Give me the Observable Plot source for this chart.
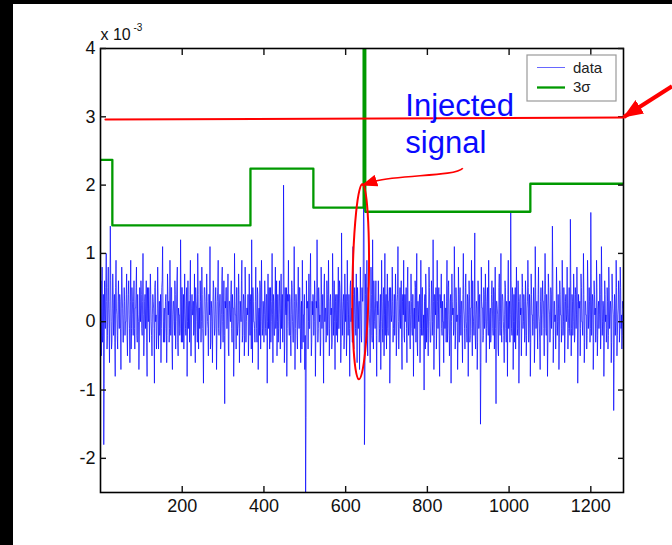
<!DOCTYPE html>
<html><head><meta charset="utf-8">
<script src="https://cdn.jsdelivr.net/npm/d3@7"></script>
<script src="https://cdn.jsdelivr.net/npm/@observablehq/plot@0.6"></script>
<style>
body{margin:0;background:#fff;}
#wrap{position:relative;width:672px;height:545px;overflow:hidden;font-family:"Liberation Sans",Arial,sans-serif;}
.strip{position:absolute;background:#000;z-index:2;}
#wrap svg{position:absolute;left:0;top:0;}
</style></head><body>
<div id="wrap"><div class="strip" style="left:0;top:0;width:672px;height:4px"></div><div class="strip" style="left:0;top:0;width:13px;height:545px"></div></div>
<script>
// detector output, units of 1e-4 (plotted in units of 1e-3)
// even samples (x = 0, 2, 4, ...)
const noiseEven = [
3,-5,8,-2,-18,6,-1,10,-4,5,2,-6,14,0,-3,7,-2,4,-8,9,
1,-4,6,-1,3,-7,8,2,-3,5,-2,0,7,-5,4,1,-6,9,-1,3,
-2,6,-4,2,8,-3,1,-7,5,0,4,-2,10,-5,3,-1,6,-8,2,5,
-3,7,0,-5,4,2,-9,6,1,-2,8,-4,3,0,-6,5,11,-3,2,-1,
4,-6,7,1,-3,9,-2,5,-7,3,0,6,-4,2,8,-5,1,-2,12,-3,
5,0,-4,7,-1,3,-8,6,2,-3,9,-5,4,1,-2,7,-6,3,0,10,
-4,2,6,-3,8,-1,-9,5,3,-2,7,0,-5,4,11,-3,2,-6,6,1,
-1,5,-7,3,9,-2,4,-4,1,8,-3,6,-12,2,5,-1,7,-5,3,0,
6,-3,2,-8,10,1,-4,5,-1,7,-6,3,0,9,-2,4,-5,8,-3,2,
1,-5,7,-2,4,12,-6,3,0,-3,8,-1,5,-7,2,6,-4,9,-2,3,
-3,6,-1,4,-9,7,2,-4,5,0,10,-6,3,-2,8,1,-5,4,-1,6,
-4,7,2,-3,20,-6,5,1,-8,4,9,-2,3,-5,6,0,-3,11,-7,4,
2,-4,8,-1,5,-6,3,9,-3,1,-7,-26,6,2,-4,7,-1,10,-5,3,
4,-2,6,-8,3,12,-3,5,0,-5,8,-1,4,-9,7,2,-3,6,-2,9,
-5,3,1,-4,10,-2,6,-7,4,0,-3,8,-1,5,-6,13,-2,3,-4,7,
0,-5,9,-2,4,-8,6,1,-3,11,-4,5,-1,7,-6,3,2,-7,8,-2,
5,3,19,-18,7,-3,9,-5,4,1,-6,8,-2,12,-4,3,-1,6,-8,2,
6,-3,1,-7,9,-1,4,-5,10,2,-4,7,-2,3,-9,5,0,8,-3,1,
-2,7,-5,3,11,-4,2,-1,6,-7,4,9,-3,0,5,-6,8,-2,3,-4,
7,-1,4,-8,2,6,-3,10,-5,1,3,-6,9,-2,5,-1,-10,4,7,-3,
2,-5,8,0,-3,6,-2,12,-7,4,1,-4,9,-1,5,-8,3,7,-2,0,
-6,4,2,-3,9,-1,6,-5,3,-9,7,1,-2,11,-4,5,0,-7,8,-3,
5,-2,3,-6,10,1,-4,7,-1,4,-8,6,-3,2,9,-5,1,-2,13,-4,
3,-7,6,-1,4,-15,8,2,-3,5,-1,7,-6,3,0,9,-4,2,-2,6,
-1,5,-4,8,-12,3,1,-5,7,-2,10,-3,4,0,-6,6,-1,3,-8,9,
2,-3,16,-1,5,-7,4,0,-4,8,-2,6,-9,3,1,-5,7,-1,4,-3,
6,-5,2,9,-3,4,-8,7,1,-2,5,-6,11,-1,3,-4,8,0,-7,5,
-2,6,3,-5,10,-1,4,-8,7,2,-3,5,-1,14,-6,3,0,-4,8,-2,
4,-7,6,1,-3,9,-2,5,-6,3,0,8,-4,2,-1,15,-5,4,-2,7,
-3,5,-1,8,-9,4,2,-5,7,0,-2,10,-6,3,1,-4,9,-1,5,-3,
16,-2,4,-7,6,1,-3,9,-5,2,-1,7,-4,11,-2,3,-8,6,0,-3,
5,-4,8,-1,3,-6,7,2,-13,4,-2,9,-5,1,6,-3,8,-1,-4,3
];
// odd samples (x = 1, 3, 5, ...)
const noiseOdd = [
6,2,-3,4,-9,1,5,3,-2,8,-1,3,6,-4,2,4,1,-3,5,2,
-2,3,1,4,-1,2,5,-3,1,3,0,4,-2,2,6,-1,3,-4,5,1,
3,-1,2,5,-2,4,0,-3,2,6,-1,3,1,-2,4,2,-3,5,0,1,
2,4,-2,1,3,-1,5,0,-4,2,3,1,-2,4,-1,6,2,0,-3,3,
1,-2,4,3,-1,2,5,-4,1,3,-2,4,0,6,-3,2,1,-1,4,5,
-3,4,1,2,-2,5,0,-1,3,4,-5,2,1,3,-1,-2,5,2,-3,4,
2,-1,3,0,4,-3,1,5,-2,2,3,-1,4,1,-4,3,0,2,5,-2,
3,1,-2,5,-1,2,4,-3,6,0,1,-2,3,5,-1,2,-4,3,1,4,
-1,4,2,-3,3,1,5,-2,0,4,-1,2,6,-3,1,3,-2,4,0,2,
4,-2,1,3,-4,2,5,0,-1,3,2,-3,4,1,-2,5,0,3,-1,2,
1,3,-2,4,0,-1,5,2,-3,3,1,4,-2,2,-1,6,0,-3,3,1,
2,-1,4,1,8,-3,2,5,-1,3,0,4,-2,1,5,-3,2,3,-1,4,
-2,3,1,5,-1,2,-4,3,1,4,-2,-14,2,3,0,-1,5,2,-3,1,
3,0,4,-2,2,5,-1,3,1,-3,4,2,-1,5,0,2,-2,4,1,3,
-1,4,2,-3,5,1,0,3,-2,4,1,-1,6,2,-3,3,1,4,-2,2,
4,-2,3,1,-1,5,0,2,-3,4,1,3,-2,2,5,-1,3,0,2,-3,
3,8,14,-12,4,1,-2,5,3,-1,2,4,-3,1,6,0,2,-2,3,1,
2,-1,4,0,3,-3,5,1,-2,4,2,-1,3,5,-4,2,1,3,-1,4,
1,3,-2,4,0,-1,5,2,-3,3,1,-2,4,2,-1,5,0,3,-2,1,
3,-2,4,1,-1,5,2,-3,3,0,4,-1,2,5,-2,1,3,-4,4,2,
-1,2,5,-3,1,4,0,3,-2,2,5,-1,3,1,-4,4,2,-1,3,0,
4,-1,2,3,-3,5,1,-2,4,0,3,2,-1,5,-2,3,1,-3,4,2,
1,3,-2,4,2,-1,5,0,-3,3,1,4,-2,2,-1,6,0,3,-2,1,
2,-3,4,1,-1,-6,3,2,-2,4,0,3,-1,5,-2,2,1,-3,4,3,
-2,4,1,-1,3,2,-4,5,0,2,-1,4,3,-2,1,5,-3,2,4,-1,
3,1,6,-2,4,0,-3,5,1,2,-1,3,-4,4,2,-1,5,0,3,-2,
4,-2,3,5,-1,2,-3,4,1,0,3,-2,5,2,-1,4,1,-3,3,2,
1,3,-1,4,6,-2,2,-3,5,1,-1,4,2,7,-2,3,1,-1,4,0,
2,-3,4,1,-1,5,0,3,-2,4,1,2,-1,5,-2,6,-1,3,0,4,
-2,4,1,3,-4,2,3,-1,5,0,2,4,-3,3,1,-2,5,1,3,-1,
7,1,3,-3,4,2,-1,5,-2,3,1,4,-1,5,0,2,-3,4,1,-1,
3,-2,5,1,2,-3,4,1,-6,3,0,5,-2,2,4,-1,5,1,-2,2
];
// 3-sigma threshold (step function), units of 1e-3
const sigmaX = [0, 29, 367, 521, 644, 648, 1052, 1280];
const sigmaY = [2.37, 1.41, 2.24, 1.67, 40, 1.61, 2.02, 2.02];
const xTicks = [200, 400, 600, 800, 1000, 1200];
const yTicks = [-2, -1, 0, 1, 2, 3, 4];
// annotations, in data units
const redLineX = [12, 1280], redLineY = [2.96, 2.99];
const arrowRX = [1400, 1282], arrowRY = [3.44, 2.99];
const curveX = [888, 870, 740, 672, 642], curveY = [2.24, 2.12, 2.15, 2.05, 1.99];
const ellipseC = {x: 638, y: 0.58, rx: 20, ry: 1.43};
const noteText = "Injected\nsignal";

// sample k: even k from noiseEven[k/2], odd k from noiseOdd[(k-1)/2]
const idx = d3.range(noiseEven.length * 2);
const val = k => (k % 2 === 0 ? noiseEven[k >> 1] : noiseOdd[k >> 1]) / 10;
const sIdx = sigmaX.map((_, i) => i);
const rIdx = redLineX.map((_, i) => i);

const chart = Plot.plot({
  width: 672, height: 545,
  marginLeft: 100, marginRight: 49, marginTop: 48, marginBottom: 53,
  style: {background: "transparent", fontFamily: "Liberation Sans, Arial, sans-serif", fontSize: "18px", color: "#111", overflow: "visible"},
  x: {domain: [0, 1280], label: null},
  y: {domain: [-2.5, 4], label: null},
  marks: [
    Plot.line(idx, {x: k => k, y: val, stroke: "blue", strokeWidth: 0.7, clip: true}),
    Plot.line(sIdx, {x: i => sigmaX[i], y: i => sigmaY[i], curve: "step-after", stroke: "#009900", strokeWidth: 2.3, clip: true}),
    Plot.frame({stroke: "#000", strokeWidth: 1.6}),
    Plot.axisX(xTicks, {anchor: "bottom", tickSize: 0, tickPadding: 7, fontSize: 18, tickFormat: d => String(d)}),
    Plot.axisX(xTicks, {anchor: "bottom", tickSize: -6, strokeWidth: 1.4, tickFormat: () => ""}),
    Plot.axisX(xTicks, {anchor: "top", tickSize: -6, strokeWidth: 1.4, tickFormat: () => ""}),
    Plot.axisY(yTicks, {anchor: "left", tickSize: 0, tickPadding: 5, fontSize: 18, tickFormat: d => String(d)}),
    Plot.axisY(yTicks, {anchor: "left", tickSize: -6, strokeWidth: 1.4, tickFormat: () => ""}),
    Plot.axisY(yTicks, {anchor: "right", tickSize: -6, strokeWidth: 1.4, tickFormat: () => ""}),
    Plot.text(["x 10"], {frameAnchor: "top-left", dx: 0, dy: -9, lineAnchor: "bottom", textAnchor: "start", fontSize: 16}),
    Plot.text(["-3"], {frameAnchor: "top-left", dx: 33, dy: -18, lineAnchor: "bottom", textAnchor: "start", fontSize: 10}),
    Plot.line(rIdx, {x: i => redLineX[i], y: i => redLineY[i], stroke: "red", strokeWidth: 2}),
    Plot.text([noteText], {x: 746, y: 2.47, lineAnchor: "bottom", textAnchor: "start", fontSize: 31, lineHeight: 1.19, fill: "#0a0aff"})
  ]
});
document.getElementById("wrap").appendChild(chart);

const sx = v => chart.scale("x").apply(v);
const sy = v => chart.scale("y").apply(v);
const svg = d3.select(chart);
const defs = svg.append("defs");
defs.append("marker").attr("id", "ahBig").attr("markerUnits", "userSpaceOnUse")
  .attr("viewBox", "0 0 20 16").attr("refX", 19).attr("refY", 8)
  .attr("markerWidth", 20).attr("markerHeight", 16).attr("orient", "auto")
  .append("path").attr("d", "M0,0 L20,8 L0,16 Z").attr("fill", "red");
defs.append("marker").attr("id", "ahSmall").attr("markerUnits", "userSpaceOnUse")
  .attr("viewBox", "0 0 16 12").attr("refX", 15).attr("refY", 6)
  .attr("markerWidth", 16).attr("markerHeight", 12).attr("orient", "auto")
  .append("path").attr("d", "M0,0 L16,6 L0,12 Z").attr("fill", "red");

svg.append("line")
  .attr("x1", sx(arrowRX[0])).attr("y1", sy(arrowRY[0]))
  .attr("x2", sx(arrowRX[1])).attr("y2", sy(arrowRY[1]))
  .attr("stroke", "red").attr("stroke-width", 4).attr("marker-end", "url(#ahBig)");

const cp = curveX.map((x, i) => [sx(x), sy(curveY[i])]);
svg.append("path")
  .attr("d", `M${cp[0]} C${cp[1]} ${cp[2]} ${cp[3]} L${cp[4]}`)
  .attr("fill", "none").attr("stroke", "red").attr("stroke-width", 1.6).attr("marker-end", "url(#ahSmall)");

const ecx = sx(ellipseC.x), ecy = sy(ellipseC.y);
svg.append("ellipse")
  .attr("cx", ecx).attr("cy", ecy)
  .attr("rx", sx(ellipseC.x + ellipseC.rx) - ecx).attr("ry", ecy - sy(ellipseC.y + ellipseC.ry))
  .attr("transform", `rotate(1 ${ecx} ${ecy})`)
  .attr("fill", "none").attr("stroke", "red").attr("stroke-width", 2);

// legend
const lg = svg.append("g").attr("font-family", "Liberation Sans, Arial, sans-serif").attr("font-size", 15).attr("text-anchor", "start").attr("fill", "#222");
lg.append("rect").attr("x", 527).attr("y", 55).attr("width", 89).attr("height", 46)
  .attr("fill", "#fff").attr("stroke", "#9a9a9a").attr("stroke-width", 1.2);
lg.append("line").attr("x1", 537).attr("x2", 565).attr("y1", 67.5).attr("y2", 67.5).attr("stroke", "blue").attr("stroke-width", 0.6);
lg.append("line").attr("x1", 537).attr("x2", 565).attr("y1", 87.5).attr("y2", 87.5).attr("stroke", "#009900").attr("stroke-width", 2.3);
lg.append("text").attr("x", 573).attr("y", 73).attr("text-anchor", "start").text("data");
lg.append("text").attr("x", 573).attr("y", 92).attr("text-anchor", "start").text("3σ");
</script>
</body></html>
